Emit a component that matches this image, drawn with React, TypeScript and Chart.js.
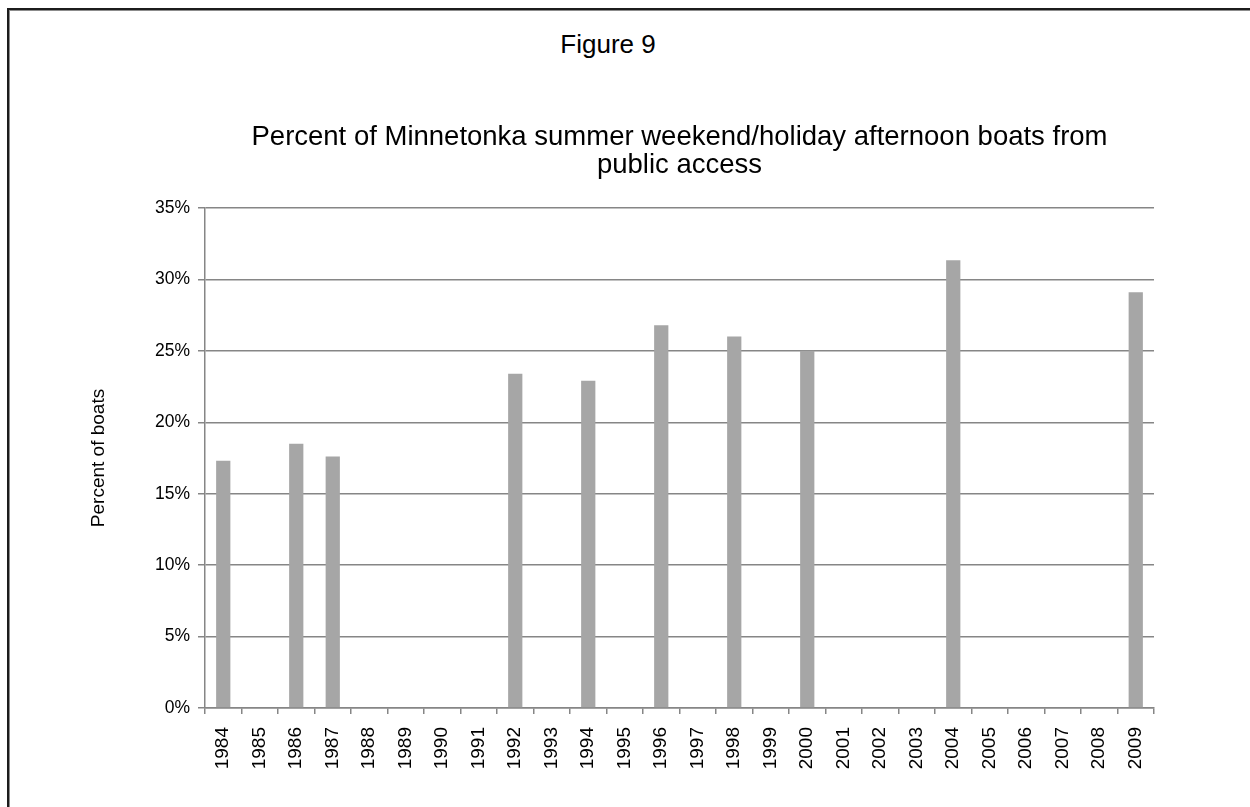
import React, { useEffect, useRef } from "react";
import { Chart, registerables } from "chart.js";

Chart.register(...registerables);

const years = [
  "1984", "1985", "1986", "1987", "1988", "1989", "1990", "1991", "1992",
  "1993", "1994", "1995", "1996", "1997", "1998", "1999", "2000", "2001",
  "2002", "2003", "2004", "2005", "2006", "2007", "2008", "2009",
];

const percentPublic: (number | null)[] = [
  17.3, null, 18.5, 17.6, null, null, null, null, 23.4,
  null, 22.9, null, 26.8, null, 26.0, null, 25.0, null,
  null, null, 31.35, null, null, null, null, 29.1,
];

const yTicks = [0, 5, 10, 15, 20, 25, 30, 35];

const figureLabel = "Figure 9";
const chartTitle = [
  "Percent of Minnetonka summer weekend/holiday afternoon boats from",
  "public access",
];
const yAxisTitle = "Percent of boats";

const FONT = "'Liberation Sans', Arial, sans-serif";
const GRID = "#868686";

export default function App() {
  const canvasRef = useRef<HTMLCanvasElement | null>(null);

  useEffect(() => {
    const canvas = canvasRef.current;
    if (!canvas) return;
    const chart = new Chart(canvas, {
      type: "bar",
      data: {
        labels: years,
        datasets: [
          {
            data: percentPublic,
            backgroundColor: "#a6a6a6",
            borderWidth: 0,
            categoryPercentage: 1,
            barPercentage: 0.39,
          },
        ],
      },
      options: {
        animation: false,
        responsive: false,
        maintainAspectRatio: false,
        layout: { padding: { left: 0, right: 96, top: 0, bottom: 0 } },
        plugins: {
          legend: { display: false },
          tooltip: { enabled: false },
          title: {
            display: true,
            text: chartTitle,
            color: "#000",
            fullSize: false,
            font: { family: FONT, size: 27.5, weight: "normal", lineHeight: 1.04 },
            padding: { top: 123, bottom: 27.8 },
          },
        },
        scales: {
          x: {
            type: "category",
            grid: {
              display: true,
              drawOnChartArea: false,
              drawTicks: true,
              tickLength: 6,
              color: GRID,
              lineWidth: 1.5,
              offset: true,
            },
            border: { display: true, color: GRID, width: 1.5 },
            ticks: {
              autoSkip: false,
              minRotation: 90,
              maxRotation: 90,
              padding: 13,
              color: "#000",
              font: { family: FONT, size: 19 },
            },
            afterFit: (scale: any) => {
              scale.height = 99;
            },
          },
          y: {
            min: 0,
            max: 35,
            afterBuildTicks: (scale: any) => {
              scale.ticks = yTicks.map((v) => ({ value: v }));
            },
            grid: {
              color: GRID,
              lineWidth: 1.5,
              drawTicks: true,
              tickLength: 7,
            },
            border: { display: true, color: GRID, width: 1.5 },
            ticks: {
              padding: 8,
              color: "#000",
              font: { family: FONT, size: 17.5 },
              callback: (v: any) => `${v}%`,
            },
            title: {
              display: true,
              text: yAxisTitle,
              color: "#000",
              font: { family: FONT, size: 19, weight: "normal" },
              padding: { top: 87, bottom: 0 },
            },
            afterFit: (scale: any) => {
              scale.width = 205;
            },
          },
        },
      },
    });
    return () => chart.destroy();
  }, []);

  return (
    <div
      style={{
        position: "fixed",
        left: 0,
        top: 0,
        width: 1250,
        height: 807,
        overflow: "hidden",
        background: "#fff",
      }}
    >
      <div
        style={{
          position: "absolute",
          left: 7,
          top: 8,
          width: 1300,
          height: 900,
          borderLeft: "2px solid #1c1c1c",
          borderTop: "2px solid #1c1c1c",
          boxShadow: "inset 1px 1px 0 #8c8c8c",
        }}
      />
      <div
        style={{
          position: "absolute",
          left: 508,
          top: 29,
          width: 200,
          textAlign: "center",
          fontFamily: FONT,
          fontSize: 26,
          lineHeight: "30px",
          color: "#000",
        }}
      >
        {figureLabel}
      </div>
      <canvas
        ref={canvasRef}
        width={1250}
        height={807}
        style={{ position: "absolute", left: 0, top: 0, width: 1250, height: 807 }}
      />
    </div>
  );
}
